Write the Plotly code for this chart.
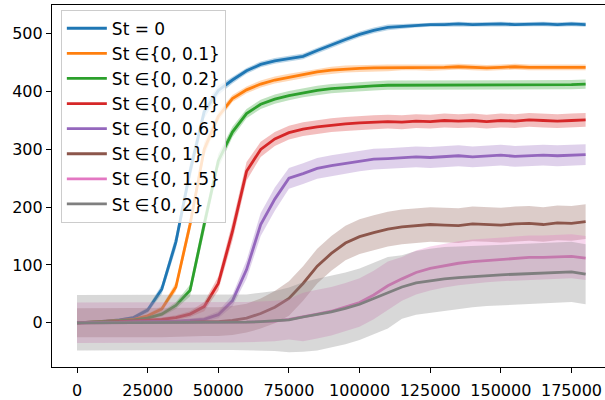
import plotly.graph_objects as go

steps = list(range(0, 180001, 5000))

labels = ["St = 0", "St \u2208{0, 0.1}", "St \u2208{0, 0.2}", "St \u2208{0, 0.4}",
          "St \u2208{0, 0.6}", "St \u2208{0, 1}", "St \u2208{0, 1.5}", "St \u2208{0, 2}"]
colors = ["#1f77b4", "#ff7f0e", "#2ca02c", "#d62728", "#9467bd", "#8c564b", "#e377c2", "#7f7f7f"]

st_0 = [0, 1, 3, 5, 9, 22, 58, 140, 262, 365, 402, 420, 436, 447, 453, 457, 461, 471, 481, 490,
        499, 506, 511, 513, 515, 516, 516, 517, 516, 517, 517, 516, 517, 517, 516, 517, 516]
st_01 = [0, 1, 2, 4, 6, 12, 24, 62, 170, 300, 357, 388, 403, 413, 420, 425, 429, 434, 437, 439,
         440, 441, 441, 442, 442, 441, 442, 443, 442, 441, 442, 443, 442, 442, 441, 442, 442]
st_02 = [0, 1, 2, 3, 5, 8, 15, 30, 56, 170, 280, 330, 362, 378, 387, 393, 398, 402, 405, 407,
         409, 410, 411, 411, 412, 411, 412, 411, 412, 412, 411, 412, 412, 411, 412, 412, 413]
st_04 = [0, 0, 1, 2, 3, 4, 6, 9, 15, 28, 68, 158, 262, 300, 318, 329, 335, 339, 342, 344,
         346, 347, 348, 347, 349, 348, 350, 349, 350, 348, 350, 349, 351, 350, 349, 350, 351]
st_06 = [0, 0, 1, 1, 2, 2, 3, 3, 4, 6, 14, 38, 92, 170, 214, 250, 258, 267, 272, 276,
         280, 283, 284, 286, 287, 286, 288, 289, 287, 289, 290, 288, 289, 290, 289, 290, 291]
st_1 = [0, 0, 0, 0, 0, 0, 0, 1, 1, 2, 2, 4, 8, 16, 27, 42, 68, 98, 120, 138,
        149, 156, 162, 166, 168, 170, 169, 168, 171, 170, 169, 171, 172, 170, 173, 172, 175]
st_15 = [0, 0, 0, 0, 0, 1, 1, 1, 1, 1, 1, 1, 1, 2, 3, 6, 10, 15, 20, 27,
         35, 48, 64, 76, 87, 94, 99, 103, 106, 108, 110, 112, 113, 113, 114, 115, 112]
st_2 = [0, 0, 0, 1, 1, 1, 1, 1, 1, 1, 1, 1, 1, 2, 3, 5, 10, 14, 19, 25,
        32, 42, 52, 62, 69, 73, 76, 78, 80, 81, 83, 84, 85, 86, 87, 88, 84]

sd_0 = [0, 1, 1, 2, 3, 5, 8, 12, 15, 12, 8, 6, 5, 5, 5, 5, 5, 5, 5, 5,
        5, 5, 5, 4, 4, 4, 4, 4, 4, 4, 4, 4, 4, 4, 4, 4, 4]
sd_01 = [0, 1, 1, 2, 2, 3, 5, 8, 12, 12, 8, 6, 6, 6, 6, 6, 6, 6, 6, 6,
         6, 6, 6, 5, 5, 5, 5, 5, 5, 5, 5, 5, 5, 5, 5, 5, 5]
sd_02 = [0, 1, 1, 2, 2, 3, 4, 6, 10, 14, 12, 9, 8, 8, 8, 8, 8, 8, 8, 8,
         8, 8, 8, 8, 8, 8, 8, 8, 8, 8, 8, 8, 8, 8, 8, 8, 8]
sd_04 = [0, 1, 1, 1, 2, 2, 3, 4, 5, 8, 12, 16, 16, 13, 12, 12, 12, 12, 12, 12,
         12, 12, 12, 12, 12, 12, 12, 12, 12, 12, 12, 12, 12, 12, 12, 12, 12]
sd_06 = [0, 1, 1, 1, 1, 2, 2, 2, 3, 4, 6, 10, 16, 20, 20, 18, 18, 18, 18, 18,
         18, 18, 18, 18, 18, 18, 18, 18, 18, 18, 18, 18, 18, 18, 18, 18, 18]
sd_1 = [25, 25, 25, 25, 25, 25, 25, 25, 25, 25, 25, 25, 25, 26, 28, 30, 30, 30, 30, 30,
        30, 30, 30, 30, 30, 30, 30, 30, 30, 30, 30, 30, 30, 30, 30, 30, 30]
sd_15 = [35, 35, 35, 35, 35, 35, 35, 35, 35, 35, 35, 35, 35, 35, 35, 35, 42, 42, 42, 42,
         42, 42, 42, 38, 38, 38, 38, 38, 38, 38, 38, 38, 38, 38, 38, 38, 38]
sd_2 = [48, 48, 48, 48, 48, 48, 48, 48, 48, 48, 48, 48, 48, 50, 52, 56, 60, 62, 62, 62,
        62, 62, 62, 55, 55, 55, 55, 54, 53, 52, 52, 52, 52, 52, 52, 52, 52]

means = [st_0, st_01, st_02, st_04, st_06, st_1, st_15, st_2]
sds = [sd_0, sd_01, sd_02, sd_04, sd_06, sd_1, sd_15, sd_2]


def rgba(hexc, a):
    h = hexc.lstrip("#")
    r, g, b = int(h[0:2], 16), int(h[2:4], 16), int(h[4:6], 16)
    return f"rgba({r},{g},{b},{a})"


fig = go.Figure()
for i, (lab, col, m, s) in enumerate(zip(labels, colors, means, sds)):
    upper = [a + b for a, b in zip(m, s)]
    lower = [a - b for a, b in zip(m, s)]
    fig.add_trace(go.Scatter(
        x=steps + steps[::-1], y=upper + lower[::-1],
        fill="toself", fillcolor=rgba(col, 0.3), line=dict(width=0),
        mode="lines", showlegend=False, hoverinfo="skip"))
    fig.add_trace(go.Scatter(
        x=steps, y=m, mode="lines", name=lab,
        line=dict(color=col, width=2.8), legendgroup=f"g{i}"))

fig.update_layout(
    width=605, height=400,
    margin=dict(l=52, r=0, t=5, b=33),
    paper_bgcolor="white", plot_bgcolor="white",
    font=dict(family="DejaVu Sans", size=16, color="black"),
    showlegend=True,
    legend=dict(x=0.016, y=0.987, xanchor="left", yanchor="top",
                bgcolor="rgba(255,255,255,0.8)", bordercolor="#cccccc", borderwidth=1,
                font=dict(size=17), tracegroupgap=0, itemwidth=40),
    xaxis=dict(range=[-8853, 186860], showgrid=False, zeroline=False,
               showline=True, linecolor="black", linewidth=1.2, mirror=True,
               ticks="outside", ticklen=5, tickcolor="black", ticklabelstandoff=4,
               tickvals=[0, 25000, 50000, 75000, 100000, 125000, 150000, 175000],
               ticktext=["0", "25000", "50000", "75000", "100000", "125000", "150000", "175000"]),
    yaxis=dict(range=[-76.5, 549.8], showgrid=False, zeroline=False,
               showline=True, linecolor="black", linewidth=1.2,
               ticks="outside", ticklen=5, tickcolor="black",
               tickvals=[0, 100, 200, 300, 400, 500]),
)

fig.write_html("out.html")
